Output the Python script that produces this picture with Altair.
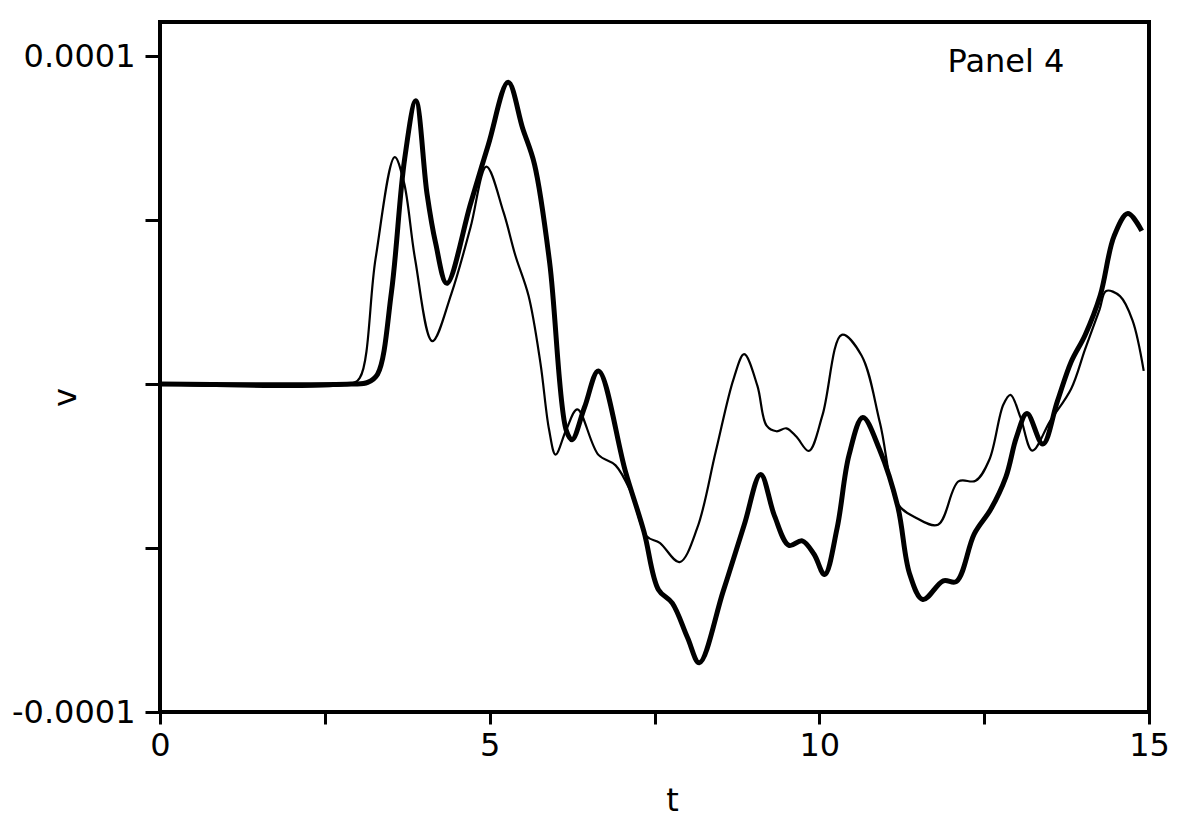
import altair as alt
import pandas as pd

# Time values (t) and v values in units of 1e-6
thick_t = [0, 2.9, 3.15, 3.3, 3.51, 3.71, 3.88, 4.05, 4.18, 4.35, 4.71, 4.98, 5.28, 5.5, 5.68,
           5.91, 6.16, 6.25, 6.44, 6.65, 7.06, 7.34, 7.56, 7.77, 8.0, 8.18, 8.54, 8.86, 9.11,
           9.32, 9.54, 9.74, 9.92, 10.08, 10.27, 10.45, 10.66, 10.91, 11.19, 11.37, 11.57,
           11.88, 12.08, 12.35, 12.6, 12.83, 12.99, 13.15, 13.39, 13.61, 13.82, 14.03, 14.26,
           14.47, 14.68, 14.89]
thick_v = [0, 0, 0.5, 3, 28, 68.6, 86.4, 58, 43, 30.7, 55, 73, 92, 78, 67,
           37, -14, -17, -7, 4, -26.7, -45, -62.7, -66.8, -77.3, -85, -63.3, -43, -27.6,
           -40.2, -49.2, -47.8, -51.9, -58.1, -43.9, -21.7, -10.2, -19.8, -37.4, -57.9, -65.7,
           -60, -60.2, -45.7, -38.2, -28.3, -16.2, -9, -18.3, -5.3, 6.8, 14.9, 27,
           45.1, 52, 46.7]

thin_t = [0, 2.87, 3.03, 3.27, 3.56, 3.70, 3.87, 4.13, 4.42, 4.71, 4.95, 5.21, 5.39, 5.59,
          5.77, 5.9, 6.0, 6.16, 6.33, 6.65, 6.91, 7.14, 7.38, 7.58, 7.88, 8.15, 8.43, 8.7,
          8.86, 9.06, 9.2, 9.35, 9.5, 9.65, 9.84, 10.05, 10.34, 10.64, 10.92, 11.19, 11.45,
          11.8, 12.11, 12.37, 12.58, 12.79, 12.9, 13.05, 13.23, 13.5, 13.82, 14.03, 14.25,
          14.35, 14.56, 14.75, 14.92]
thin_v = [0, 0, 1.9, 38.3, 69.2, 61.5, 38, 13.1, 27.6, 47.8, 66.3, 52.4, 39.2, 26.9,
          6.4, -13.8, -21.5, -14, -7.7, -21.6, -24.8, -32.9, -46.4, -48.4, -54.3, -43.8, -20.5, 1.6,
          9.1, -0.5, -12.7, -14.4, -13.5, -16, -20.4, -9.3, 15, 8.7, -11.9, -36.5, -40.6,
          -42.9, -29.7, -29.5, -23, -6.3, -3.3, -10.1, -20.3, -11.3, -1.4, 10.6, 22.7,
          28.4, 26.8, 19.4, 4]

x_ticks = [0, 2.5, 5, 7.5, 10, 12.5, 15]
y_ticks = [-0.0001, -0.00005, 0, 0.00005, 0.0001]
panel_label = ["Panel 4"]

thick = pd.DataFrame({"t": thick_t, "v": [x * 1e-6 for x in thick_v]})
thin = pd.DataFrame({"t": thin_t, "v": [x * 1e-6 for x in thin_v]})

FONT = "DejaVu Sans"

x_enc = alt.X("t:Q", scale=alt.Scale(domain=[0, 15], nice=False, zero=False),
              axis=alt.Axis(values=x_ticks, title="t", grid=False, domain=False,
                            format="d",
                            labelExpr="datum.value % 5 == 0 ? format(datum.value, 'd') : ''",
                            tickSize=12, tickWidth=3, tickColor="black",
                            labelFont=FONT, labelFontSize=32, labelColor="black",
                            labelPadding=6, labelFlush=False,
                            titleFont=FONT, titleFontSize=32, titleFontWeight="normal",
                            titleColor="black", titleX=512, titleY=88,
                            titleBaseline="middle", titleAlign="center"))
y_enc = alt.Y("v:Q", scale=alt.Scale(domain=[-0.0001, 0.0001104], nice=False, zero=False),
              axis=alt.Axis(values=y_ticks, title="v", grid=False, domain=False,
                            labelExpr="abs(datum.value) > 0.00009 ? (datum.value > 0 ? '0.0001' : '-0.0001') : ''",
                            tickSize=15, tickWidth=3, tickColor="black",
                            labelFont=FONT, labelFontSize=32, labelColor="black",
                            labelPadding=10, labelFlush=False,
                            titleFont=FONT, titleFontSize=32, titleFontWeight="normal",
                            titleColor="black", titleX=-95, titleY=375, titleAngle=270,
                            titleBaseline="middle", titleAlign="center"))

thin_line = alt.Chart(thin).mark_line(color="black", strokeWidth=2.2,
                                      interpolate="catmull-rom").encode(x=x_enc, y=y_enc)
thick_line = alt.Chart(thick).mark_line(color="black", strokeWidth=5,
                                        interpolate="catmull-rom").encode(x="t:Q", y="v:Q")

label = alt.Chart(pd.DataFrame({"label": panel_label})).mark_text(
    font=FONT, fontSize=32, color="black", align="center", baseline="middle"
).encode(text="label:N", x=alt.value(846), y=alt.value(40))

chart = alt.layer(thin_line, thick_line, label).properties(
    width=989, height=690,
    autosize=alt.AutoSizeParams(type="none"),
    padding={"left": 160, "top": 22, "right": 44, "bottom": 115},
    background="white",
).configure_view(stroke="black", strokeWidth=4)

chart.save("out.html", embed_options={"renderer": "svg", "actions": False})
